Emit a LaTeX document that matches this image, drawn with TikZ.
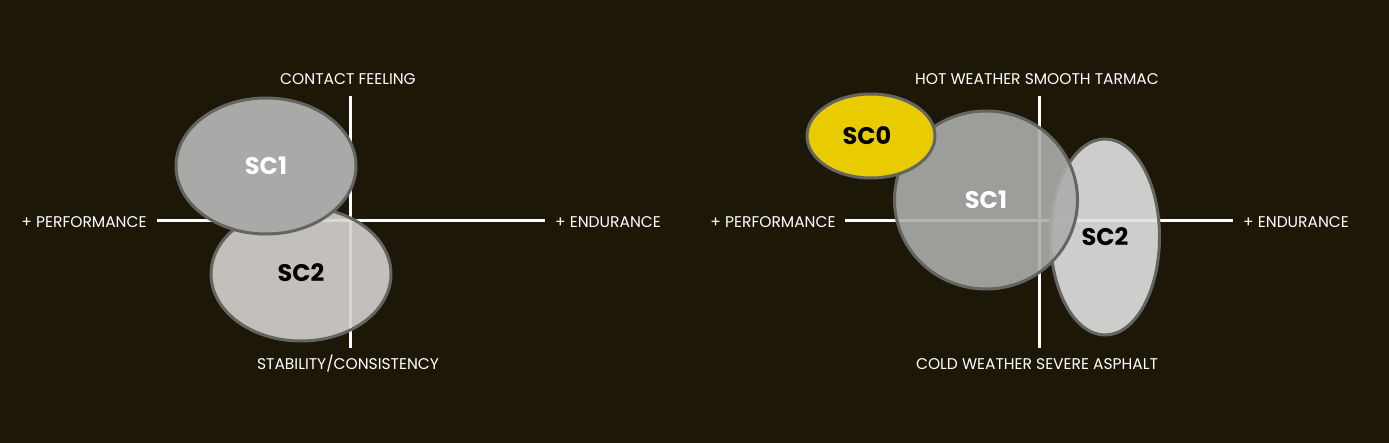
\documentclass[tikz,border=0pt]{standalone}
\usepackage{fontspec}
\setmainfont{Poppins}
\usetikzlibrary{shapes.geometric}
\definecolor{bgc}{RGB}{28,23,7}
\definecolor{rimc}{RGB}{100,100,98}
\definecolor{sconeL}{RGB}{169,169,168}
\definecolor{sconeR}{RGB}{172,172,170}
\definecolor{sctwo}{RGB}{214,211,207}
\definecolor{sctwoR}{RGB}{225,225,226}
\definecolor{sczero}{RGB}{232,203,0}
\tikzset{
  axis/.style={draw=white, line width=3pt},
  lbl/.style={text=white, font=\fontsize{15.5}{18}\selectfont, inner sep=0pt},
  blob/.style={ellipse, draw=rimc, line width=3pt, inner sep=0pt, fill opacity=0.9, text opacity=1},
  blobtxt/.style={font=\fontsize{24}{28}\selectfont\bfseries, inner sep=0pt},
}
\begin{document}
\begin{tikzpicture}[x=1pt,y=-1pt]
\fill[bgc] (0,0) rectangle (1389,443);
\useasboundingbox (0,0) rectangle (1389,443);
% ---- left chart axes
\coordinate (lW) at (157,221);
\coordinate (lE) at (545,221);
\coordinate (lN) at (350,96);
\coordinate (lS) at (350,348);
\draw[axis] (lW) -- (lE);
\draw[axis] (lN) -- (lS);
\node[lbl] (lt) at (348,79) {CONTACT FEELING};
\node[lbl] (lb) at (348,364) {STABILITY/CONSISTENCY};
\node[lbl] (ll) at (84,222) {+ PERFORMANCE};
\node[lbl] (lr) at (608,222) {+ ENDURANCE};
\node[blob, fill=sctwo, minimum width=180pt, minimum height=134pt] (lsc2) at (301,274) {};
\node[blobtxt, text=black] (lsc2t) at (301,273) {SC2};
\node[blob, fill=sconeL, fill opacity=1, minimum width=180pt, minimum height=136pt] (lsc1) at (266,166) {};
\node[blobtxt, text=white] (lsc1t) at (266,166) {SC1};
% ---- right chart axes
\coordinate (rW) at (845,221);
\coordinate (rE) at (1233,221);
\coordinate (rN) at (1039,96);
\coordinate (rS) at (1039,348);
\draw[axis] (rW) -- (rE);
\draw[axis] (rN) -- (rS);
\node[lbl] (rt) at (1037,79) {HOT WEATHER SMOOTH TARMAC};
\node[lbl] (rb) at (1037,364) {COLD WEATHER SEVERE ASPHALT};
\node[lbl] (rl) at (773,222) {+ PERFORMANCE};
\node[lbl] (rr) at (1296,222) {+ ENDURANCE};
\node[blob, fill=sctwoR, minimum width=109pt, minimum height=196pt] (rsc2) at (1105,237) {};
\node[blobtxt, text=black] (rsc2t) at (1105,237) {SC2};
\node[blob, fill=sconeR, minimum width=183pt, minimum height=178pt] (rsc1) at (986,200) {};
\node[blobtxt, text=white] (rsc1t) at (986,200) {SC1};
\node[blob, fill=sczero, fill opacity=1, minimum width=128pt, minimum height=84pt] (rsc0) at (871,136) {};
\node[blobtxt, text=black] (rsc0t) at (867,136) {SC0};
\end{tikzpicture}
\end{document}
